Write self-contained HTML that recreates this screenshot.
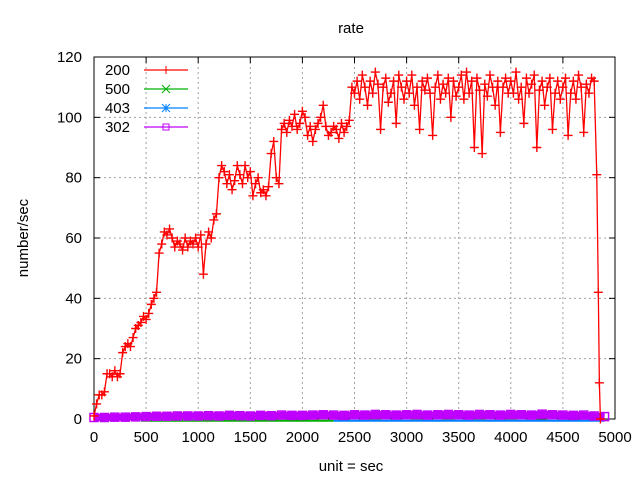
<!DOCTYPE html>
<html><head><meta charset="utf-8"><style>
body{margin:0;background:#fff;}
svg text{font-family:"Liberation Sans",sans-serif;font-size:15px;fill:#000;}
</style></head><body>
<svg id="chart" width="640" height="480" viewBox="0 0 640 480" xmlns="http://www.w3.org/2000/svg">
<text x="351" y="33" text-anchor="middle">rate</text>
<text x="351" y="471" text-anchor="middle">unit = sec</text>
<text transform="translate(28,238) rotate(-90)" text-anchor="middle">number/sec</text>
<g id="grid"></g>
<g id="axes"></g>
<g id="series"></g>
<g id="legend"></g>
</svg>
<script>
const xTicks=[0,500,1000,1500,2000,2500,3000,3500,4000,4500,5000];
const yTicks=[0,20,40,60,80,100,120];
const step200=25;
const rate200=[1,5,8,8,9,15,15,14,16,14,15,22,24,25,24,27,30,31,32,34,
33,35,38,40,42,55,58,62,61,63,60,57,59,58,56,60,57,59,58,60,
57,61,48,58,62,60,66,68,80,84,82,78,81,76,79,84,81,78,84,80,
82,74,78,80,75,76,74,77,88,92,80,78,96,98,95,99,97,101,96,98,
102,100,94,97,92,96,98,100,104,97,94,95,97,96,93,98,95,97,99,110,
108,112,106,114,110,104,112,108,115,111,96,110,113,105,108,112,98,114,110,106,
112,108,114,104,110,96,112,109,113,108,94,110,114,106,111,108,113,100,112,107,
110,114,106,115,108,112,90,113,109,88,111,107,114,110,104,112,95,110,113,108,
112,108,115,106,110,98,113,108,111,114,90,109,112,104,110,113,96,108,112,106,
110,113,94,108,112,106,114,110,95,111,108,113,112];
const tailTimes=[4825,4840,4850,4860];
const tailRates=[81,42,12,0];
const step302=100;
const rate302=[0.5,0.5,0.6,0.6,0.7,0.8,0.9,0.9,1,1,1,1.1,1,1.2,1.1,1,1.2,1.1,1.3,1.2,
1.2,1.3,1.4,1.3,1.2,1.4,1.3,1.5,1.4,1.3,1.4,1.5,1.3,1.4,1.5,1.4,1.3,1.5,1.4,1.3,
1.5,1.4,1.3,1.6,1.4,1.3,1.2,1.3,1.0,0.8];
const x0=94,x1=615,y0=419,y1=57;
const X=t=>x0+(t/5000)*(x1-x0);
const Y=v=>y0-(v/120)*(y0-y1);
const NS="http://www.w3.org/2000/svg";
function mk(tag,attrs,parent){const e=document.createElementNS(NS,tag);for(const k in attrs)e.setAttribute(k,attrs[k]);parent.appendChild(e);return e;}
const grid=document.getElementById('grid'),axes=document.getElementById('axes'),series=document.getElementById('series'),legend=document.getElementById('legend');
xTicks.forEach(t=>{
 if(t>0&&t<5000){const g=mk('line',{x1:X(t),x2:X(t),y1:y1,y2:y0,stroke:'#a0a0a0','stroke-dasharray':'2,3'},grid);
 
 }
 mk('line',{x1:X(t),x2:X(t),y1:y0,y2:y0-6,stroke:'#000'},axes);
 mk('line',{x1:X(t),x2:X(t),y1:y1,y2:y1+6,stroke:'#000'},axes);
 const tx=mk('text',{x:X(t),y:y0+23,'text-anchor':'middle'},axes);tx.textContent=t;
 
 
});
yTicks.forEach(v=>{
 if(v>0&&v<120){const g=mk('line',{x1:x0,x2:x1,y1:Y(v),y2:Y(v),stroke:'#a0a0a0','stroke-dasharray':'2,3'},grid);
 
 }
 mk('line',{x1:x0,x2:x0+6,y1:Y(v),y2:Y(v),stroke:'#000'},axes);
 mk('line',{x1:x1,x2:x1-6,y1:Y(v),y2:Y(v),stroke:'#000'},axes);
 const tx=mk('text',{x:x0-12,y:Y(v)+5,'text-anchor':'end'},axes);tx.textContent=v;
 
 
});
const frame=mk('rect',{x:x0,y:y1,width:x1-x0,height:y0-y1,fill:'none',stroke:'#000'},axes);


const l500=mk('line',{x1:X(450),x2:X(2300),y1:Y(-0.6),y2:Y(-0.6),stroke:'#00b000','stroke-width':2},series);


const l403=mk('line',{x1:X(2300),x2:X(4900),y1:Y(-0.6),y2:Y(-0.6),stroke:'#0080ff','stroke-width':2},series);


let p302=rate302.map((v,i)=>X(i*step302)+','+Y(v)).join(' ');
const pl302=mk('polyline',{points:p302,fill:'none',stroke:'#c000ff','stroke-width':7},series);


rate302.forEach((v,i)=>{const r=mk('rect',{x:X(i*step302)-4,y:Y(v)-4,width:8,height:8,fill:'none',stroke:'#c000ff','stroke-width':1.5},series);
 
 });
const pts=rate200.map((v,i)=>[i*step200,v]).concat(tailTimes.map((t,i)=>[t,tailRates[i]]));
const pl=mk('polyline',{points:pts.map(p=>X(p[0])+','+Y(p[1])).join(' '),fill:'none',stroke:'#ff0000','stroke-width':1.3},series);


pts.forEach(p=>{const cx=X(p[0]),cy=Y(p[1]);
 const m=mk('path',{d:`M${cx-4.5},${cy}H${cx+4.5}M${cx},${cy-4.5}V${cy+4.5}`,stroke:'#ff0000','stroke-width':1.4},series);
 
 });
const leg=[['200','#ff0000','plus'],['500','#00b000','x'],['403','#0080ff','star'],['302','#c000ff','box']];
leg.forEach((l,i)=>{const y=70+i*19;
 const g=mk('g',{},legend);
 
 
 const t=mk('text',{x:130,y:y+5,'text-anchor':'end'},g);t.textContent=l[0];
 mk('line',{x1:144,x2:188,y1:y,y2:y,stroke:l[1],'stroke-width':1.2},g);
 const c=166;
 if(l[2]==='plus')mk('path',{d:`M${c-4},${y}H${c+4}M${c},${y-4}V${y+4}`,stroke:l[1]},g);
 if(l[2]==='x')mk('path',{d:`M${c-4},${y-4}L${c+4},${y+4}M${c-4},${y+4}L${c+4},${y-4}`,stroke:l[1]},g);
 if(l[2]==='star')mk('path',{d:`M${c-4},${y}H${c+4}M${c},${y-4}V${y+4}M${c-4},${y-4}L${c+4},${y+4}M${c-4},${y+4}L${c+4},${y-4}`,stroke:l[1]},g);
 if(l[2]==='box')mk('rect',{x:c-3,y:y-3,width:6,height:6,fill:'none',stroke:l[1]},g);
});
</script>
</body></html>
